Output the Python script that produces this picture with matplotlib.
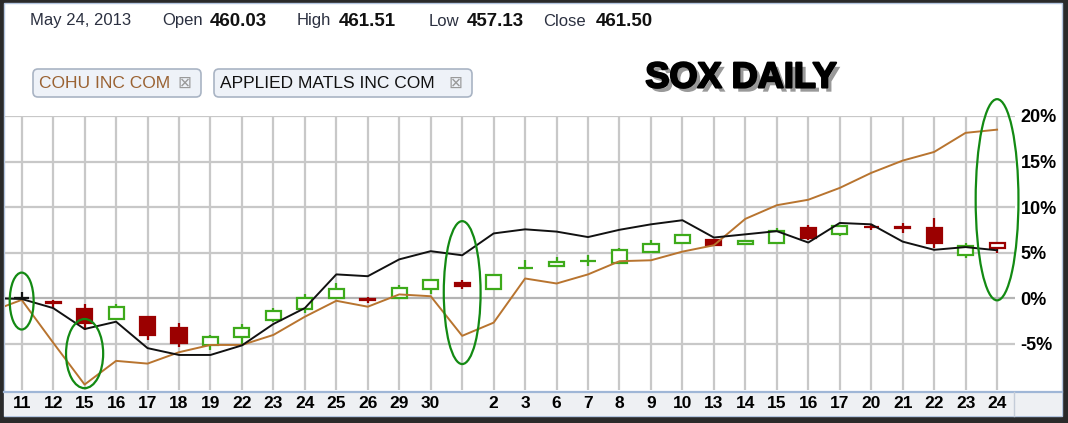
import numpy as np
import matplotlib
matplotlib.use("Agg")
import matplotlib.pyplot as plt
from matplotlib import font_manager
from matplotlib.patches import Rectangle, FancyBboxPatch, Ellipse
import matplotlib.patheffects as pe

# x axis: trading days Apr 11 - May 24 2013 (May 1 has no label)
days = ["11", "12", "15", "16", "17", "18", "19", "22", "23", "24", "25", "26", "29", "30", "",
        "2", "3", "6", "7", "8", "9", "10", "13", "14", "15", "16", "17", "20", "21", "22", "23", "24"]

# % change lines; first value is the day before Apr 11 (left of the plot edge)
amat = [0.0, -0.1, -1.1, -3.4, -2.6, -5.5, -6.25, -6.25, -5.2, -2.85, -1.1, 2.6, 2.4, 4.25, 5.15,
        4.7, 7.1, 7.55, 7.3, 6.7, 7.5, 8.1, 8.55, 6.65, 7.0, 7.35, 6.1, 8.25, 8.1, 6.2, 5.3, 5.6, 5.25]
cohu = [-1.5, -0.2, -4.9, -9.5, -6.9, -7.2, -5.95, -5.15, -5.15, -4.05, -2.05, -0.3, -0.95, 0.4, 0.2,
        -4.15, -2.7, 2.15, 1.6, 2.6, 4.05, 4.15, 5.1, 5.8, 8.7, 10.2, 10.8, 12.1, 13.75, 15.1, 16.05, 18.15, 18.5]

# SOX candles in % of Apr 11
sox_open = [0.0, -0.45, -1.15, -2.35, -2.1, -3.3, -5.15, -4.25, -2.4, -1.25, 0.0, -0.15, 0.05, 0.95, 1.65, 0.95,
            3.3, 3.55, 4.08, 3.9, 5.1, 6.1, 6.35, 5.9, 6.1, 7.65, 7.0, 7.82, 7.77, 7.75, 4.7, 5.45]
sox_high = [0.7, -0.2, -0.65, -0.6, -2.1, -2.7, -4.1, -2.85, -1.1, 0.4, 1.6, 0.1, 1.4, 1.95, 1.95, 2.5,
            4.15, 4.5, 4.7, 5.55, 6.35, 6.9, 6.4, 6.3, 7.75, 8.0, 7.9, 8.1, 8.2, 8.75, 6.1, 6.0]
sox_low = [-0.3, -1.1, -3.5, -2.4, -4.6, -5.4, -5.7, -5.15, -2.6, -1.6, 0.0, -0.5, -0.1, 0.5, 1.0, 0.95,
           3.3, 3.55, 3.5, 3.7, 5.1, 6.1, 5.8, 5.9, 6.1, 6.4, 6.85, 7.5, 7.1, 5.45, 4.35, 4.9]
sox_close = [0.0, -0.5, -2.7, -0.95, -4.05, -4.95, -4.3, -3.3, -1.4, 0.0, 1.0, -0.2, 1.15, 1.95, 1.3, 2.5,
             3.32, 4.0, 4.12, 5.25, 5.9, 6.9, 5.8, 6.3, 7.4, 6.55, 7.9, 7.78, 7.73, 6.05, 5.7, 6.0]
sox_tone = list("krrgrrgggggrggrgggggggrggrgrrrgr")

header_names = ["Open", "High", "Low", "Close"]
header_vals = ["460.03", "461.51", "457.13", "461.50"]

GREEN = "#3daa1a"
RED = "#9b0000"
tone_color = {"k": "#111111", "r": RED, "g": GREEN}

names = {f.name for f in font_manager.fontManager.ttflist}
narrow = "Liberation Sans Narrow" if "Liberation Sans Narrow" in names else "Liberation Sans"
plt.rcParams["font.family"] = ["Liberation Sans", "DejaVu Sans"]

W, H = 1068, 423
fig = plt.figure(figsize=(W / 100, H / 100), dpi=100, facecolor="#2a2a2a")

# background / frame in pixel coords
bg = fig.add_axes([0, 0, 1, 1], zorder=0)
bg.set_xlim(0, W)
bg.set_ylim(H, 0)
bg.axis("off")
bg.add_patch(Rectangle((4, 3), 1058, 413, facecolor="white", edgecolor="#b4c6e0", lw=1))
bg.add_patch(Rectangle((4, 392), 1058, 24, facecolor="#eef0f3", edgecolor="none"))
bg.plot([4, 1062], [392, 392], color="#9fb6d6", lw=1.6)
bg.plot([1014, 1014], [392, 416], color="#c4ccd8", lw=1)

# header line
bg.text(30, 21, "May 24, 2013", fontsize=12, color="#2b3040", va="center")
for nm, val, xn, xv in zip(header_names, header_vals, [162, 297, 429, 543], [210, 339, 467, 596]):
    bg.text(xn, 21, nm, fontsize=12, color="#2b3040", va="center")
    bg.text(xv, 21, val, fontsize=13.5, fontweight="bold", color="#111111", va="center")

# legend buttons
for (x0, x1), label, col in [((33, 201), "COHU INC COM", "#9a6232"),
                              ((214, 472), "APPLIED MATLS INC COM", "#111111")]:
    bg.add_patch(FancyBboxPatch((x0, 69), x1 - x0, 28, boxstyle="round,pad=0,rounding_size=5",
                                facecolor="#eef2f8", edgecolor="#a9b4c4", lw=1.2))
    t = bg.text(x0 + 6, 83.5, label, fontsize=12.5, color=col, va="center")
    bg.text(x1 - 24, 82.5, "\u22a0", fontsize=12, color="#9a9a9a", va="center",
            family=["DejaVu Sans"])

bg.text(741, 78, "SOX DAILY", fontsize=26, fontweight="bold", color="black", ha="center", va="center",
        path_effects=[pe.withSimplePatchShadow(offset=(3, -3), shadow_rgbFace="#555555", alpha=0.6),
                      pe.withStroke(linewidth=1.5, foreground="black")])

# main chart
ax = fig.add_axes([5 / W, 33 / H, 1010 / W, 274 / H], zorder=2)
ax.set_facecolor("none")
x = np.arange(len(days))
xl = np.arange(-1, len(days))

for i in x:
    ax.axvline(i, color="#c8c8c8", lw=1.6, zorder=0)
for v in [-5, 0, 5, 10, 15, 20]:
    ax.axhline(v, color="#b4b4b4" if v == 0 else "#c8c8c8", lw=1.6, zorder=0)

for i in x:
    o, h, l, c = sox_open[i], sox_high[i], sox_low[i], sox_close[i]
    col = tone_color[sox_tone[i]]
    ax.plot([i, i], [l, h], color=col, lw=1.6, zorder=2, solid_capstyle="butt")
    filled = c < o and abs(c - o) > 0.1
    ax.add_patch(Rectangle((i - 0.24, min(o, c)), 0.48, max(abs(c - o), 0.02),
                           facecolor=col if filled else "white", edgecolor=col, lw=1.6, zorder=2))

ax.plot(xl, cohu, color="#b8742f", lw=1.4, zorder=3)
ax.plot(xl, amat, color="#111111", lw=1.4, zorder=4)

# green ellipses marking days
for cx, cy, ew, eh in [(0, -0.33, 0.76, 6.25), (2, -6.1, 1.18, 7.6), (14, 0.6, 1.17, 15.7), (31, 10.8, 1.36, 22.1)]:
    ax.add_patch(Ellipse((cx, cy), ew, eh, fill=False, edgecolor="#138a13", lw=1.6, zorder=6, clip_on=False))

ax.set_xlim(-0.53, 31.57)
ax.set_ylim(-10.1, 20)
for s in ax.spines.values():
    s.set_visible(False)
ax.set_xticks(x, days)
ax.yaxis.tick_right()
ax.set_yticks([-5, 0, 5, 10, 15, 20], ["-5%", "0%", "5%", "10%", "15%", "20%"])
ax.tick_params(axis="x", length=0, pad=4.5, labelsize=12.5)
ax.tick_params(axis="y", length=0, pad=4, labelsize=13)
for lab in ax.get_xticklabels():
    lab.set_fontweight("bold")
    lab.set_family([narrow, "DejaVu Sans"])
for lab in ax.get_yticklabels():
    lab.set_fontweight("bold")

fig.savefig("out.png", dpi=100, facecolor=fig.get_facecolor())
